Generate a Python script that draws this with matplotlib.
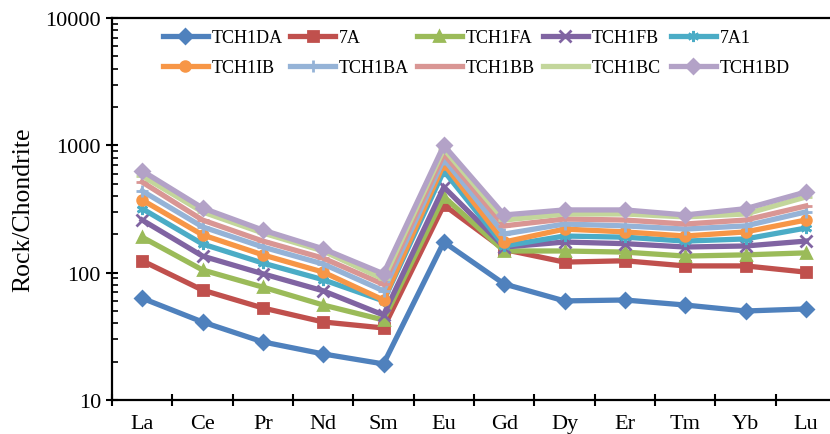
import numpy as np
import matplotlib
matplotlib.use('Agg')
import matplotlib.pyplot as plt
from matplotlib.legend import Legend

plt.rcParams['font.family'] = ['Liberation Serif', 'DejaVu Serif']

elements = ['La', 'Ce', 'Pr', 'Nd', 'Sm', 'Eu', 'Gd', 'Dy', 'Er', 'Tm', 'Yb', 'Lu']

# Rock/Chondrite normalised values
TCH1DA = [63, 41, 28.6, 23, 19.2, 174, 81.5, 60, 61, 55.7, 50, 51.9]
s7A = [124, 73, 52.8, 41, 36.8, 340, 152, 121, 124, 113, 113, 101]
TCH1FA = [190, 105, 77, 55.7, 42.5, 395, 148, 148, 145, 135, 138, 143]
TCH1FB = [259, 135, 98, 72, 46.5, 470, 159, 174, 169, 159, 162, 177]
s7A1 = [318, 168, 119, 88, 60, 630, 162, 194, 190, 177, 184, 224]
TCH1IB = [372, 198, 138, 101, 61, 714, 174, 220, 209, 194, 209, 259]
TCH1BA = [438, 229, 159, 117, 72, 781, 201, 241, 233, 220, 233, 300]
TCH1BB = [515, 259, 177, 130, 81, 855, 233, 264, 259, 241, 259, 334]
TCH1BC = [575, 300, 205, 148, 89, 937, 259, 289, 289, 274, 289, 393]
TCH1BD = [630, 322, 216, 154, 98, 998, 284, 311, 311, 284, 318, 430]

names = ['TCH1DA', '7A', 'TCH1FA', 'TCH1FB', '7A1',
         'TCH1IB', 'TCH1BA', 'TCH1BB', 'TCH1BC', 'TCH1BD']
series = [TCH1DA, s7A, TCH1FA, TCH1FB, s7A1,
          TCH1IB, TCH1BA, TCH1BB, TCH1BC, TCH1BD]
colors = ['#4F81BD', '#C0504D', '#9BBB59', '#8064A2', '#4BACC6',
          '#F79646', '#95B3D7', '#D99694', '#C3D69B', '#B3A2C7']
markers = ['D', 's', '^', 'x', (6, 2, 0), 'o', '+', '_', '_', 'D']

fig = plt.figure(figsize=(8.3, 4.35), dpi=100)
ax = fig.add_axes([112/830, 34/435, 724/830, 382/435])

x = np.arange(len(elements))
handles = []
for name, vals, c, m in zip(names, series, colors, markers):
    ms = 7 if m in ('D', 's', '^', 'o') else 8
    h, = ax.plot(x, vals, color=c, lw=3.8, marker=m, ms=ms, mew=2,
                 mec=c, mfc=c, label=name, solid_joinstyle='miter')
    handles.append(h)

ax.set_yscale('log')
ax.set_ylim(10, 10000)
ax.set_xlim(-0.5, len(elements) - 0.5)

# category labels in the middle, ticks on the boundaries
ax.set_xticks(np.arange(len(elements) + 1) - 0.5)
ax.set_xticklabels([])
ax.set_xticks(x, minor=True)
ax.set_xticklabels(elements, minor=True)
ax.tick_params(axis='x', which='major', direction='inout', length=9, width=1.5)
ax.tick_params(axis='x', which='minor', length=0, pad=10, labelsize=16)

ax.set_yticks([10, 100, 1000, 10000])
ax.set_yticklabels(['10', '100', '1000', '10000'])
ax.tick_params(axis='y', which='major', direction='inout', length=9, width=1.5,
               labelsize=16)
ax.tick_params(axis='y', which='minor', direction='in', length=4, width=1.2)
ax.set_ylabel('Rock/Chondrite', fontsize=18.5, labelpad=8)

for sp in ax.spines.values():
    sp.set_linewidth(1.6)

# legend: five equal-width columns of two rows, like the Excel one
col_x = [0.070, 0.246, 0.421, 0.595, 0.772]
for k, cx in enumerate(col_x):
    leg = Legend(ax, [handles[k], handles[k + 5]], [names[k], names[k + 5]],
                 loc='upper left', bbox_to_anchor=(cx, 0.97),
                 frameon=False, fontsize=13, handlelength=2.5,
                 handletextpad=0.2, labelspacing=0.7, borderpad=0,
                 borderaxespad=0)
    ax.add_artist(leg)

fig.savefig('out.png', dpi=100)
